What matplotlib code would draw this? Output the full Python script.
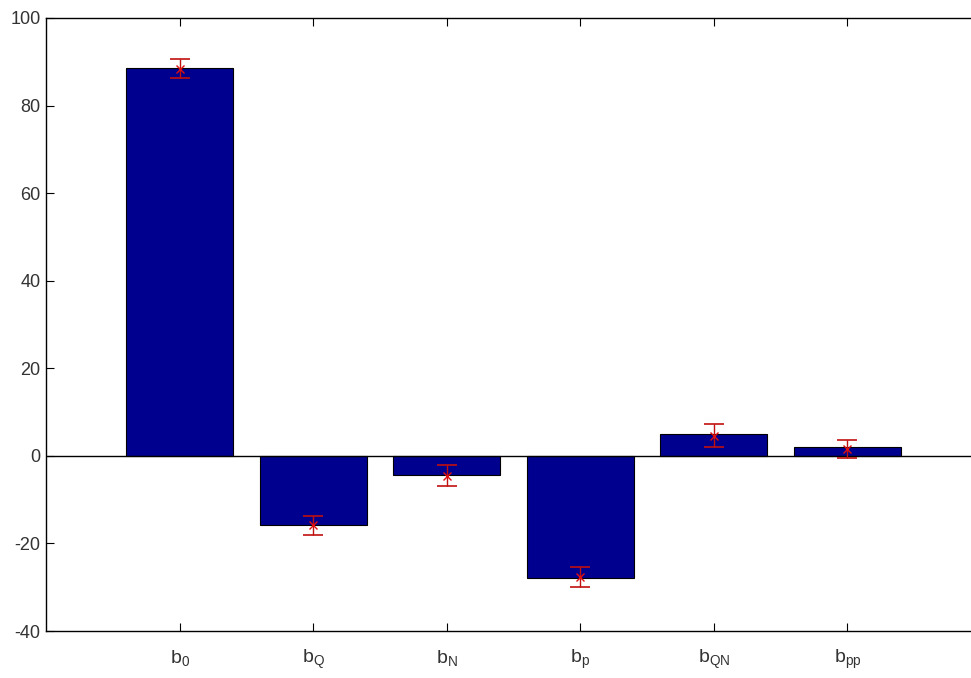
import numpy as np
import matplotlib
matplotlib.use("Agg")
import matplotlib.pyplot as plt

# coefficients
labels = ['b_0', 'b_Q', 'b_N', 'b_p', 'b_{QN}', 'b_{pp}']
values = [88.6, -15.8, -4.4, -27.8, 4.9, 2.1]
err_mean = [88.4, -15.9, -4.5, -27.6, 4.6, 1.6]
err_size = [2.2, 2.2, 2.3, 2.3, 2.6, 2.0]

plt.rcParams['font.family'] = ['Liberation Sans', 'DejaVu Sans']
plt.rcParams['mathtext.fontset'] = 'custom'
plt.rcParams['mathtext.rm'] = 'Liberation Sans'
plt.rcParams['mathtext.it'] = 'Liberation Sans'
plt.rcParams['axes.unicode_minus'] = False

fig = plt.figure(figsize=(9.71, 6.78), dpi=100)
ax = fig.add_axes([46 / 971, 47 / 678, 935 / 971, 613 / 678])

x = np.arange(1, len(values) + 1)
ax.bar(x, values, width=0.8, color='#00008F', edgecolor='black', linewidth=0.8, zorder=2)
ax.axhline(0, color='black', linewidth=1.0, zorder=3)
ax.errorbar(x, err_mean, yerr=err_size, fmt='x', color='#E01010', ecolor='#C01010',
            markersize=6, capsize=7, elinewidth=1.0, capthick=1.2, zorder=4)

ax.set_xlim(0, 7)
ax.set_ylim(-40, 100)
ax.set_yticks(np.arange(-40, 101, 20))
ax.set_xticks(x)
ax.set_xticklabels([r'$\mathregular{' + l + '}$' for l in labels])
ax.tick_params(direction='in', length=6, width=0.8, top=True, right=True,
               labelsize=13, colors='black', labelcolor='#333333', pad=4)
ax.tick_params(axis='x', pad=12, labelsize=14)
for s in ax.spines.values():
    s.set_linewidth(1.0)

fig.savefig('out.png', dpi=100)
